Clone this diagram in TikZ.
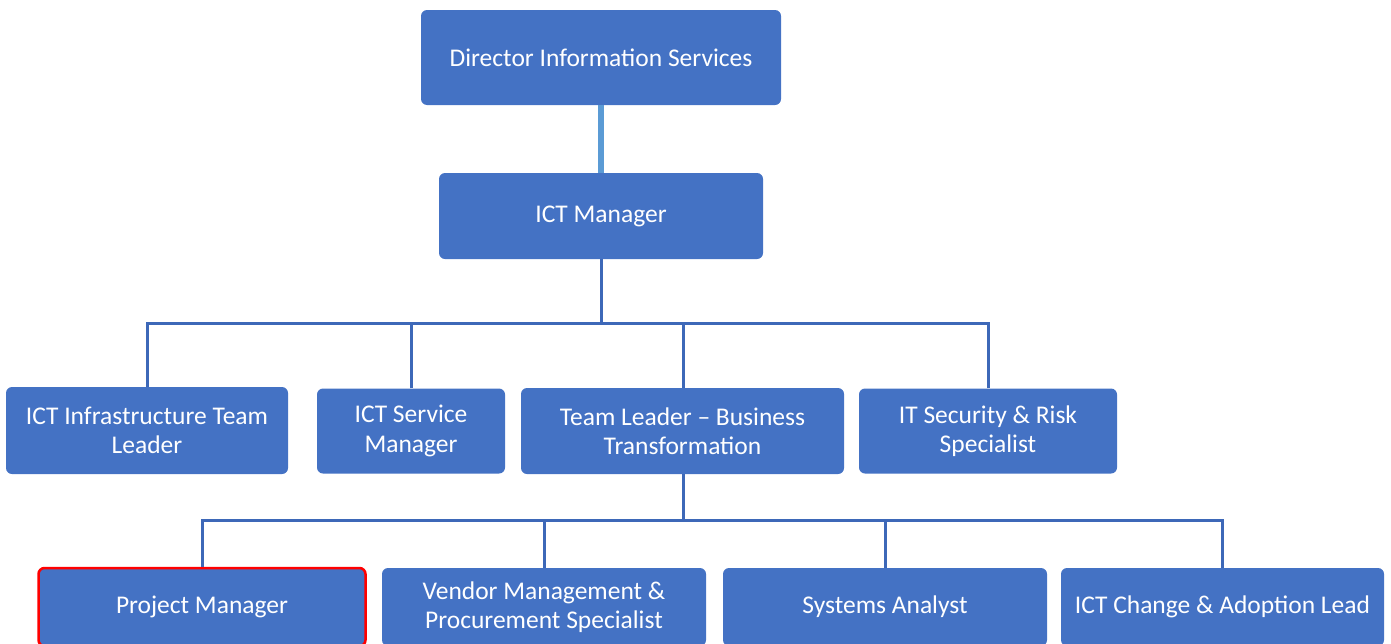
\documentclass[tikz,border=0pt]{standalone}
\usepackage{fontspec}
\setmainfont{Carlito}
\definecolor{boxblue}{HTML}{4472C4}
\definecolor{linkblue}{HTML}{3D68B8}
\definecolor{lightlink}{HTML}{5B9BD5}
\begin{document}
\begin{tikzpicture}[x=1pt,y=-1pt,
  box/.style={rectangle, rounded corners=6pt, fill=boxblue, text=white,
    align=center, inner sep=0pt, font=\fontsize{25.5}{29.5}\selectfont},
  link/.style={draw=linkblue, line width=3pt},
  toplink/.style={draw=lightlink, line width=5.5pt}]
\useasboundingbox (0,0) rectangle (1391,643);
\clip (0,0) rectangle (1391,643);
\node[box, minimum width=360pt, minimum height=95pt] (dir) at (601,57.5) {Director Information Services};
\node[box, minimum width=324pt, minimum height=86pt] (ict) at (601,216) {ICT Manager};
\node[box, minimum width=282pt, minimum height=87pt] (infra) at (147,430.5) {ICT Infrastructure Team\\Leader};
\node[box, minimum width=188pt, minimum height=85pt] (svc) at (411,431) {ICT Service\\Manager};
\node[box, minimum width=323pt, minimum height=86pt] (tl) at (682.5,431) {Team Leader – Business\\Transformation};
\node[box, minimum width=258pt, minimum height=85pt] (sec) at (988,431) {IT Security \& Risk\\Specialist};
\node[box, draw=red, line width=2.5pt, minimum width=327pt, minimum height=78pt] (pm) at (202,607) {Project Manager};
\node[box, minimum width=324pt, minimum height=78pt] (ven) at (544,607) {Vendor Management \&\\Procurement Specialist};
\node[box, minimum width=324pt, minimum height=78pt] (sys) at (885,607) {Systems Analyst};
\node[box, minimum width=323pt, minimum height=78pt] (chg) at (1222.5,607) {ICT Change \& Adoption Lead};
\coordinate (b1) at (601,323);
\coordinate (b2) at (683,520);
\draw[toplink] (dir.south) -- (ict.north);
\draw[link] (ict.south) -- (b1);
\draw[link] (infra.north) |- (b1);
\draw[link] (svc.north) |- (b1);
\draw[link] (tl.north -| 683,0) |- (b1);
\draw[link] (sec.north) |- (b1);
\draw[link] (tl.south -| b2) -- (b2);
\draw[link] (pm.north) |- (b2);
\draw[link] (ven.north) |- (b2);
\draw[link] (sys.north) |- (b2);
\draw[link] (chg.north) |- (b2);
\end{tikzpicture}
\end{document}
